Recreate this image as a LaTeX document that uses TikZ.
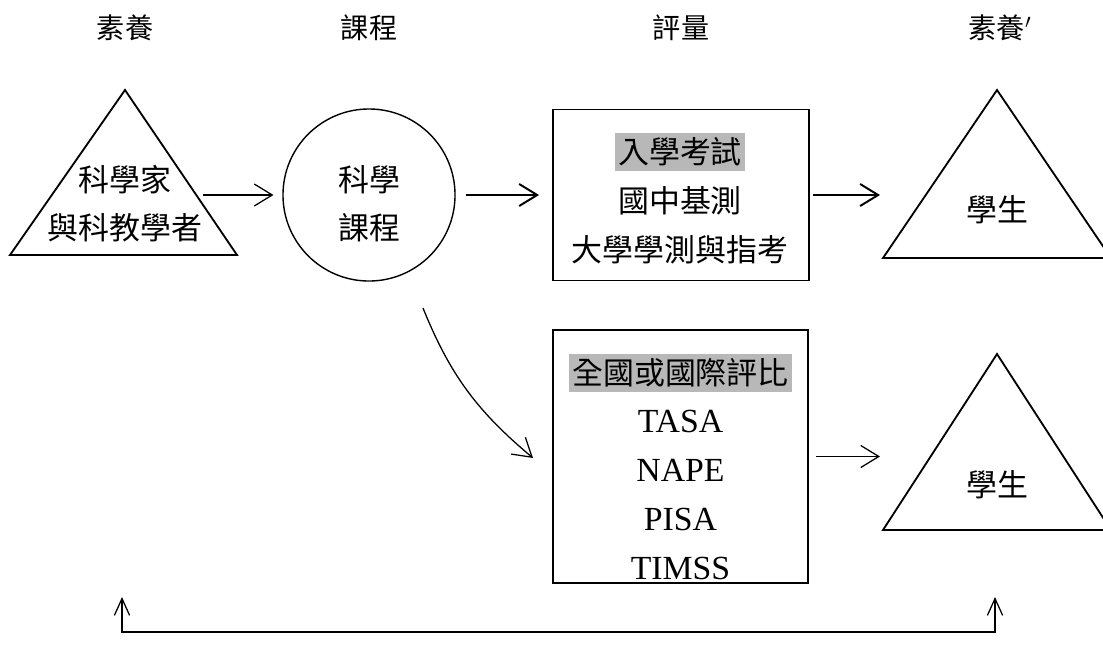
\documentclass[tikz,border=0pt]{standalone}
\usepackage{fontspec}
\setmainfont{Liberation Serif}
\newfontfamily\cjk{Noto Sans CJK TC}
\usetikzlibrary{arrows.meta,positioning}

\tikzset{
  big/.style={font=\cjk\fontsize{22pt}{34pt}\selectfont, inner sep=0pt},
  top/.style={font=\cjk\fontsize{20pt}{24pt}\selectfont},
  latin/.style={font=\fontsize{24pt}{28pt}\selectfont, inner sep=0pt},
  shaded/.style={big, fill=black!28, inner xsep=2.5pt, inner ysep=3pt},
  tri/.style={line width=1.3pt, line join=miter},
  box/.style={draw, line width=1pt},
  arr/.style={-{Straight Barb[length=0.45cm,width=0.55cm]}, line width=0.9pt},
  back/.style={{Straight Barb[length=0.42cm,width=0.38cm]}-{Straight Barb[length=0.42cm,width=0.38cm]}, line width=0.9pt},
}

\begin{document}
\begin{tikzpicture}[x=0.025cm,y=-0.025cm,node distance=1.22cm,on grid]
    \useasboundingbox (0,0) rectangle (1103,646);

    % column headings
    \node[top] (h1) at (125,28) {素養};
    \node[top] (h2) at (369,28) {課程};
    \node[top] (h3) at (681,28) {評量};
    \node[top] (h4) at (1000,28) {素養$'$};

    % scientists
    \draw[tri] (125,90) -- (10,255) -- (237,255) -- cycle;
    \node[big, align=center] (sci) at (125,204) {科學家\\與科教學者};

    % curriculum
    \node[circle, draw, line width=1pt, minimum size=4.3cm] (curr) at (369,195) {};
    \node[big, align=center] (currtext) at (369,204) {科學\\課程};

    % entrance exams
    \node[box, minimum width=6.4cm, minimum height=4.275cm] (exam) at (681,195) {};
    \node[shaded] (exam0) at (680,152) {入學考試};
    \node[big, below=of exam0] (exam1) {國中基測};
    \node[big, below=of exam1] (exam2) {大學學測與指考};

    % large scale assessments
    \node[box, minimum width=6.375cm, minimum height=6.325cm] (eval) at (680.5,456.5) {};
    \node[shaded] (eval0) at (680.5,373) {全國或國際評比};
    \node[latin, below=of eval0] (eval1) {TASA};
    \node[latin, below=of eval1] (eval2) {NAPE};
    \node[latin, below=of eval2] (eval3) {PISA};
    \node[latin, below=of eval3] (eval4) {TIMSS};

    % students
    \draw[tri] (997,90) -- (883,258) -- (1111,258) -- cycle;
    \node[big] (stud1) at (997,210) {學生};
    \draw[tri] (997,354) -- (883,530) -- (1111,530) -- cycle;
    \node[big] (stud2) at (997,485) {學生};

    % connectors
    \coordinate (sciout) at (203,195);
    \coordinate (stud1in) at (880,195);
    \coordinate (stud2in) at (880,456.5);
    \coordinate (bendout) at (423,308);
    \coordinate (bendin) at (533,458);
    \coordinate (backR) at (995,597);
    \coordinate (backL) at (122,597);

    \draw[arr, shorten >=0.22cm] (sciout) -- (curr.west);
    \draw[arr, line width=1.4pt, shorten <=0.25cm, shorten >=0.33cm] (curr.east) -- (exam.west);
    \draw[arr, line width=1.4pt, shorten <=0.08cm] (exam.east) -- (stud1in);
    \draw[arr, shorten <=0.18cm] (eval.east) -- (stud2in);
    \draw[arr] (bendout) to[out=-68,in=140] (bendin);
    \draw[back] (backR) -- ++(0,35) -| (backL);
\end{tikzpicture}
\end{document}
